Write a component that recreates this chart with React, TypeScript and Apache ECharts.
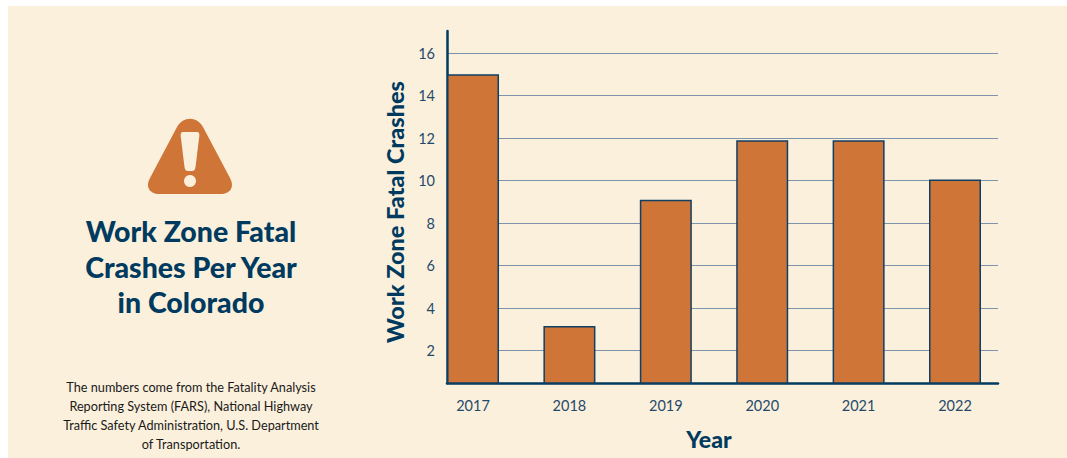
import React, { useEffect, useRef } from "react";
import * as echarts from "echarts";

const years = [2017, 2018, 2019, 2020, 2021, 2022];
const crashes = [15, 3.15, 9.1, 11.9, 11.9, 10.05];
const yTicks = [2, 4, 6, 8, 10, 12, 14, 16];
const titleLines = ["Work Zone Fatal", "Crashes Per Year", "in Colorado"];
const sourceLines = [
  "The numbers come from the Fatality Analysis",
  "Reporting System (FARS), National Highway",
  "Traffic Safety Administration, U.S. Department",
  "of Transportation.",
];
const xAxisTitle = "Year";
const yAxisTitle = "Work Zone Fatal Crashes";

const CREAM = "#fbf0dc";
const NAVY = "#003a5f";
const ORANGE = "#d07538";
const FONT = "Lato, 'Noto Sans', sans-serif";

// Warning sign: a rounded triangle with the exclamation bar cut in cream.
echarts.graphic.registerShape(
  "warnTriangle",
  echarts.graphic.extendPath(
    "M177 127C183 116 197 116 203 127L230 178C235 187 230 194 221 194L159 194C150 194 145 187 150 178Z",
    {}
  )
);
echarts.graphic.registerShape(
  "warnBar",
  echarts.graphic.extendPath(
    "M183 132L197 132C199 132 199.5 134 199.3 136L195.5 167C195 170 194 171 192 171L188 171C186 171 185 170 184.5 167L180.7 136C180.5 134 181 132 183 132Z",
    {}
  )
);

export default function App() {
  const ref = useRef<HTMLDivElement>(null);

  useEffect(() => {
    document.body.style.margin = "0";
    const chart = echarts.init(ref.current!, undefined, { renderer: "svg" });
    chart.setOption({
      animation: false,
      backgroundColor: "#ffffff",
      textStyle: { fontFamily: FONT },
      grid: { left: 447, top: 31, width: 551, height: 352, containLabel: false, outerBoundsMode: "none" },
      xAxis: {
        type: "value",
        min: 2016.73,
        max: 2022.446,
        axisLine: { onZero: false, lineStyle: { color: NAVY, width: 2.5 } },
        axisTick: { show: false, customValues: years },
        splitLine: { show: false },
        axisLabel: {
          customValues: years,
          formatter: (v: number) => String(v),
          color: "#1f4a6b",
          fontSize: 14.5,
          margin: 15,
          fontFamily: FONT,
        },
      },
      yAxis: {
        type: "value",
        min: 0.47,
        max: 17.04,
        axisLine: { show: true, onZero: false, lineStyle: { color: NAVY, width: 2.5 } },
        axisTick: { show: false, customValues: yTicks },
        splitLine: { show: true, lineStyle: { color: "#7d93ab", width: 1 } },
        axisLabel: {
          customValues: yTicks,
          color: "#1f4a6b",
          fontSize: 14.5,
          margin: 12,
          padding: [2, 0, 0, 0],
          fontFamily: FONT,
        },
      },
      series: [
        {
          type: "bar",
          barWidth: 52,
          data: years.map((y, i) => [y, crashes[i]]),
          itemStyle: { color: ORANGE, borderColor: "#0f3f63", borderWidth: 1.5 },
        },
      ],
      graphic: [
        {
          type: "rect",
          z: -10,
          silent: true,
          shape: { x: 8, y: 6, width: 1059, height: 452 },
          style: { fill: CREAM },
        },
        { type: "warnTriangle", x: 0, y: 0, style: { fill: ORANGE } },
        { type: "warnBar", x: 0, y: 0, style: { fill: CREAM } },
        { type: "circle", shape: { cx: 190, cy: 181, r: 6 }, style: { fill: CREAM } },
        ...titleLines.map((line, i) => ({
          type: "text",
          x: 191,
          y: 231 + i * 35.5,
          style: {
            text: line,
            fill: NAVY,
            font: `900 28.5px ${FONT}`,
            align: "center",
            verticalAlign: "middle",
          },
        })),
        ...sourceLines.map((line, i) => ({
          type: "text",
          x: 191,
          y: 386.5 + i * 19,
          style: {
            text: line,
            fill: "#1a1a1a",
            font: `12.7px ${FONT}`,
            align: "center",
            verticalAlign: "middle",
          },
        })),
        {
          type: "text",
          x: 709,
          y: 439,
          style: {
            text: xAxisTitle,
            fill: NAVY,
            font: `900 23px ${FONT}`,
            align: "center",
            verticalAlign: "middle",
          },
        },
        {
          type: "text",
          x: 395,
          y: 212,
          rotation: Math.PI / 2,
          style: {
            text: yAxisTitle,
            fill: NAVY,
            font: `900 23.5px ${FONT}`,
            align: "center",
            verticalAlign: "middle",
          },
        },
      ],
    });
    return () => chart.dispose();
  }, []);

  return <div ref={ref} style={{ position: "absolute", left: 0, top: 0, width: 1067, height: 458 }} />;
}
